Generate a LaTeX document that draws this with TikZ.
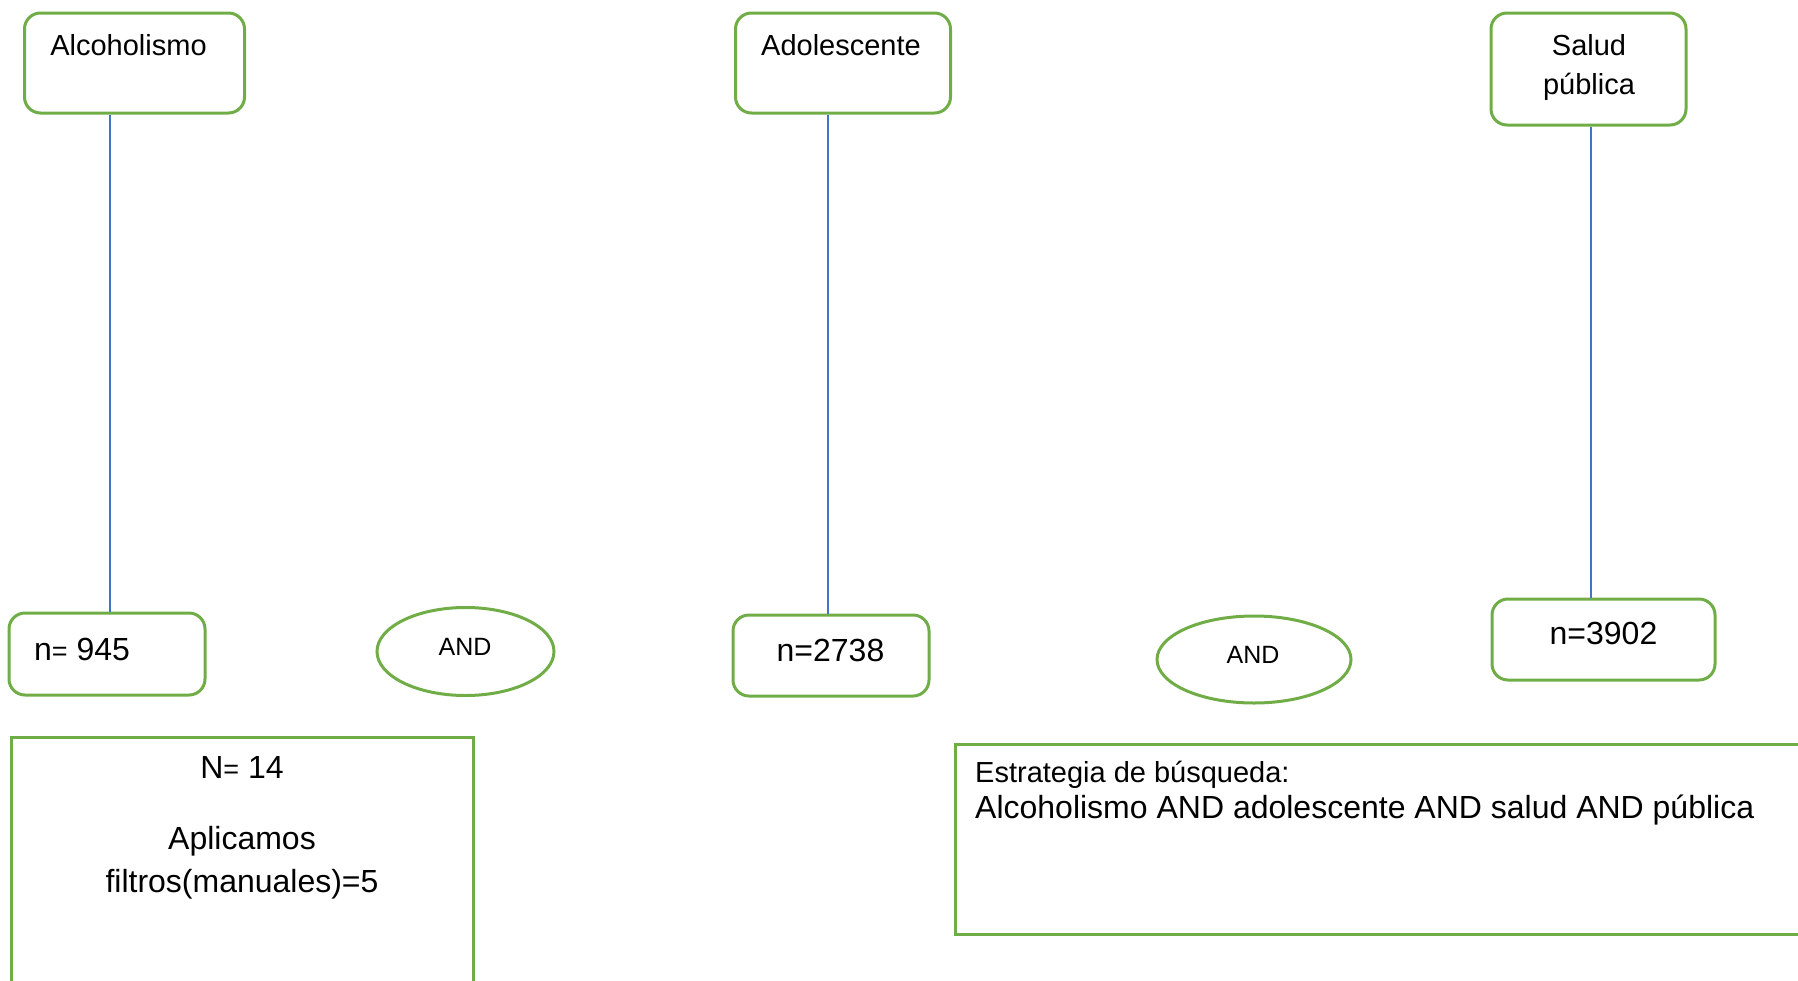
\documentclass[tikz,border=0pt]{standalone}
\usepackage{fontspec}
\setmainfont{Liberation Sans}
\usetikzlibrary{shapes.geometric}
\definecolor{grn}{HTML}{70AD47}
\definecolor{blu}{HTML}{4472C4}
\newcommand\fsz[1]{\fontsize{#1pt}{#1pt}\selectfont}
\tikzset{
  rbox/.style={draw=grn, line width=3pt, rounded corners=16pt, inner sep=0pt},
  sbox/.style={draw=grn, line width=3pt, inner sep=0pt, anchor=north west},
  oval/.style={ellipse, draw=grn, line width=3pt, inner sep=0pt},
  conn/.style={draw=blu, line width=1.3pt},
  lbl/.style={anchor=base, inner sep=0pt},
  lbll/.style={anchor=base west, inner sep=0pt},
}
\begin{document}
\begin{tikzpicture}[x=1pt,y=-1pt]
\useasboundingbox (0,0) rectangle (1798,980);
% top boxes
\node[rbox, minimum width=220pt, minimum height=100pt] (alc) at (134.5,63) {};
\node[lbl, font=\fsz{29}] (alct) at (128.5,55) {Alcoholismo};
\node[rbox, minimum width=215pt, minimum height=100pt] (ado) at (843,63) {};
\node[lbl, font=\fsz{29}] (adot) at (841,55) {Adolescente};
\node[rbox, minimum width=195pt, minimum height=112pt] (sal) at (1588.5,69) {};
\node[lbl, font=\fsz{29}] (salt1) at (1589,55) {Salud};
\node[lbl, font=\fsz{29}] (salt2) at (1589,94) {pública};
% count boxes
\node[rbox, minimum width=196pt, minimum height=82pt] (n1) at (107,654) {};
\node[lbll, font=\fsz{32}] (n1t) at (34,660) {n{\fsz{27}=} 945};
\node[rbox, minimum width=196pt, minimum height=81pt] (n2) at (831,655.5) {};
\node[lbl, font=\fsz{32}] (n2t) at (830.5,661) {n=2738};
\node[rbox, minimum width=223pt, minimum height=81pt] (n3) at (1603.5,639.5) {};
\node[lbl, font=\fsz{32}] (n3t) at (1603.5,644) {n=3902};
% AND ovals
\node[oval, minimum width=177pt, minimum height=88pt] (and1) at (465.5,651.5) {};
\node[lbl, font=\fsz{25}] (and1t) at (465,655) {AND};
\node[oval, minimum width=194pt, minimum height=87pt] (and2) at (1254,659.5) {};
\node[lbl, font=\fsz{25}] (and2t) at (1253,663) {AND};
% connectors
\coordinate (c1) at (110,0);
\coordinate (c2) at (828,0);
\coordinate (c3) at (1591,0);
\draw[conn] (alc.south -| c1) -- (n1.north -| c1);
\draw[conn] (ado.south -| c2) -- (n2.north -| c2);
\draw[conn] (sal.south -| c3) -- (n3.north -| c3);
% result box
\node[sbox, minimum width=462pt, minimum height=300pt] (res) at (10,736) {};
\node[lbl, font=\fsz{32}] (rest1) at (242,778) {N{\fsz{27}=} 14};
\node[lbl, font=\fsz{32}] (rest2) at (242,849) {Aplicamos};
\node[lbl, font=\fsz{32}] (rest3) at (242,892) {filtros(manuales)=5};
% strategy box
\node[sbox, minimum width=900pt, minimum height=190pt] (est) at (954,743) {};
\node[lbll, font=\fsz{29}] (estt1) at (975,782) {Estrategia de búsqueda:};
\node[lbll, font=\fsz{32}] (estt2) at (975,818) {Alcoholismo AND adolescente AND salud AND pública};
\end{tikzpicture}
\end{document}
